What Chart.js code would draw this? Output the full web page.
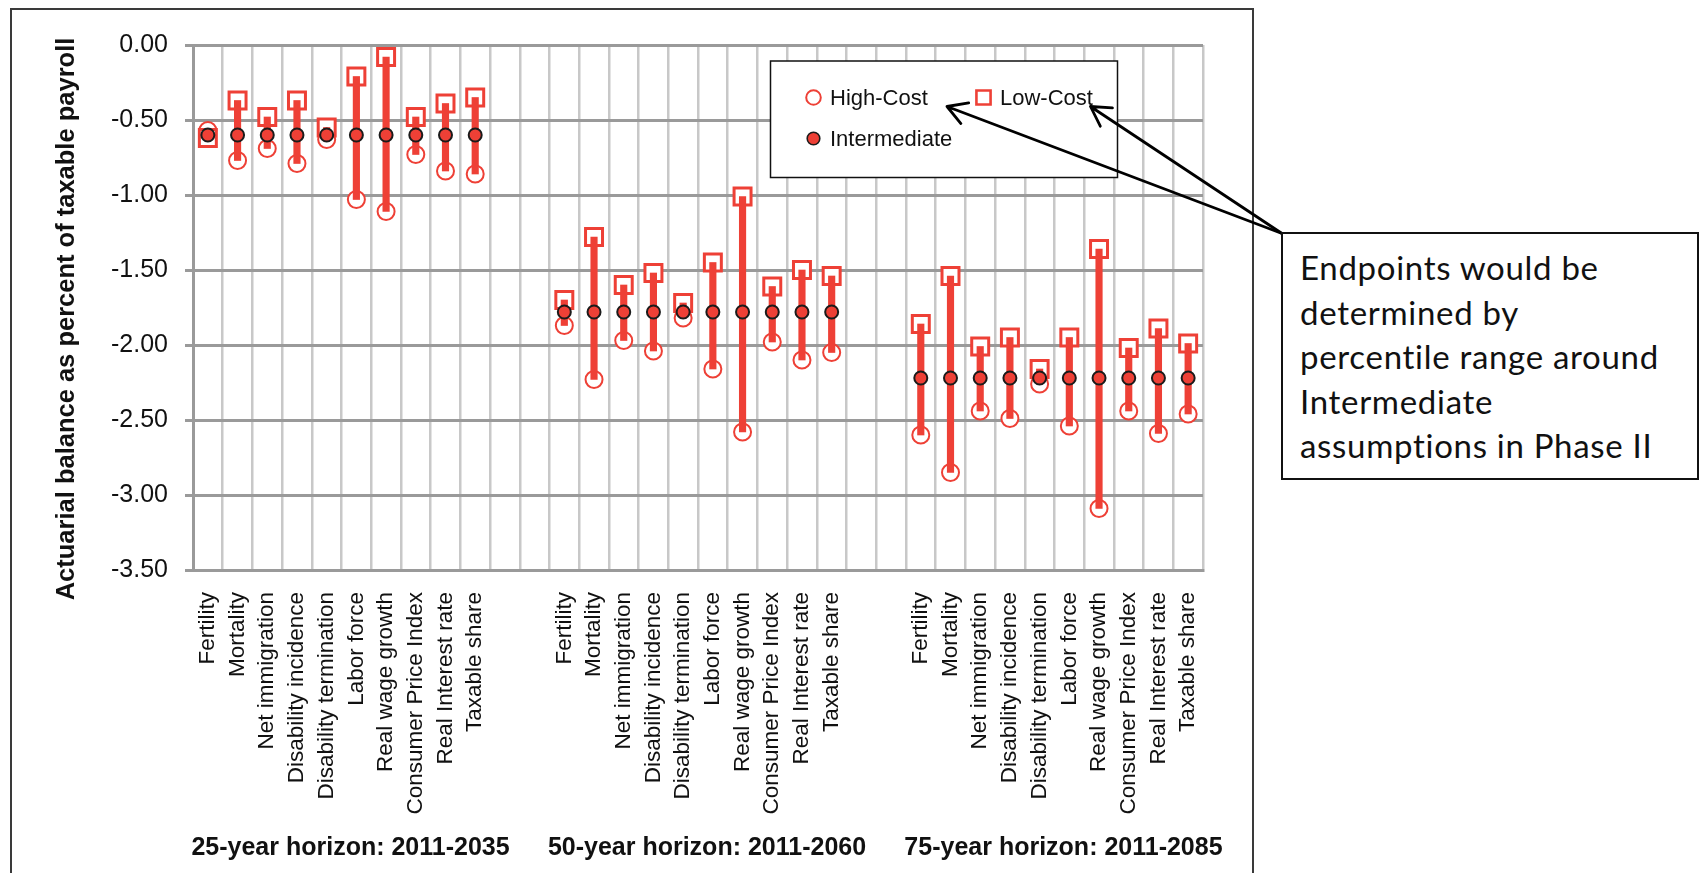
<!DOCTYPE html>
<html>
<head>
<meta charset="utf-8">
<title>Actuarial balance sensitivity ranges</title>
<script src="https://cdn.jsdelivr.net/npm/chart.js@4.4.1/dist/chart.umd.min.js"></script>
<style>
  html, body { margin: 0; padding: 0; background: #fff; overflow: hidden; }
  #wrap { position: relative; width: 1702px; height: 873px; }
  #frame { position: absolute; left: 10px; top: 8px; width: 1244px; height: 900px;
           border: 2px solid #3a3a3a; box-sizing: border-box; }
  #chart { position: absolute; left: 0; top: 0; }
  #note { position: absolute; left: 1281px; top: 232px; width: 418px; height: 248px;
          box-sizing: border-box; border: 2px solid #111; background: #fff;
          padding: 11px 0 0 17px; font-family: Lato, "Open Sans", sans-serif;
          font-size: 33px; letter-spacing: 0.7px; line-height: 44.6px; color: #111;
          white-space: nowrap; }
</style>
</head>
<body>
<div id="wrap">
  <div id="frame"></div>
  <canvas id="chart" width="1702" height="873"></canvas>
  <div id="note">Endpoints would be<br>determined by<br>percentile range around<br>Intermediate<br>assumptions in Phase II</div>
</div>
<script>
// Assumption categories, repeated for each projection horizon
const factors = ['Fertility', 'Mortality', 'Net immigration', 'Disability incidence',
  'Disability termination', 'Labor force', 'Real wage growth', 'Consumer Price Index',
  'Real Interest rate', 'Taxable share'];
const horizons = ['25-year horizon: 2011-2035', '50-year horizon: 2011-2060', '75-year horizon: 2011-2085'];
const gapSlots = 2; // empty category slots between horizons
const yTitle = 'Actuarial balance as percent of taxable payroll';

// Actuarial balance (% of taxable payroll), 25-year horizon
const highCost25 = [-0.57, -0.77, -0.69, -0.79, -0.63, -1.03, -1.11, -0.73, -0.84, -0.86];
const lowCost25  = [-0.62, -0.37, -0.48, -0.37, -0.55, -0.21, -0.08, -0.48, -0.39, -0.35];
const inter25    = [-0.60, -0.60, -0.60, -0.60, -0.60, -0.60, -0.60, -0.60, -0.60, -0.60];

// 50-year horizon
const highCost50 = [-1.87, -2.23, -1.97, -2.04, -1.82, -2.16, -2.58, -1.98, -2.10, -2.05];
const lowCost50  = [-1.70, -1.28, -1.60, -1.52, -1.72, -1.45, -1.01, -1.61, -1.50, -1.54];
const inter50    = [-1.78, -1.78, -1.78, -1.78, -1.78, -1.78, -1.78, -1.78, -1.78, -1.78];

// 75-year horizon
const highCost75 = [-2.60, -2.85, -2.44, -2.49, -2.26, -2.54, -3.09, -2.44, -2.59, -2.46];
const lowCost75  = [-1.86, -1.54, -2.01, -1.95, -2.16, -1.95, -1.36, -2.02, -1.89, -1.99];
const inter75    = [-2.22, -2.22, -2.22, -2.22, -2.22, -2.22, -2.22, -2.22, -2.22, -2.22];

// Value axis
const yMin = -3.5, yMax = 0, yStep = 0.5;

const RED = '#ee4036';
const FONT = '"Liberation Sans", Arial, sans-serif';

// Lay the three horizons side by side with blank slots in between
function joinGroups(a, b, c, filler) {
  const gap = Array(gapSlots).fill(filler);
  return [...a, ...gap, ...b, ...gap, ...c];
}
const labels = joinGroups(factors, factors, factors, '');
const highCost = joinGroups(highCost25, highCost50, highCost75, null);
const lowCost = joinGroups(lowCost25, lowCost50, lowCost75, null);
const intermediate = joinGroups(inter25, inter50, inter75, null);
const ranges = highCost.map((h, i) => (h === null ? null : [lowCost[i], h]));

// Axis title, legend box, arrows and horizon captions drawn on top of the plot
const overlay = {
  id: 'overlay',
  afterDraw(chart) {
    const ctx = chart.ctx;
    const x = chart.scales.x;
    ctx.save();

    // rotated value-axis title
    ctx.save();
    ctx.translate(67, 319);
    ctx.rotate(-Math.PI / 2);
    ctx.font = 'bold 25.5px ' + FONT;
    ctx.fillStyle = '#111';
    ctx.textAlign = 'center';
    ctx.textBaseline = 'middle';
    ctx.fillText(yTitle, 0, 0);
    ctx.restore();

    // horizon captions under each group
    ctx.font = 'bold 25px ' + FONT;
    ctx.fillStyle = '#111';
    ctx.textAlign = 'center';
    ctx.textBaseline = 'middle';
    const groupLen = factors.length + gapSlots;
    horizons.forEach((h, g) => {
      const first = x.getPixelForValue(g * groupLen);
      const last = x.getPixelForValue(g * groupLen + factors.length - 1);
      ctx.fillText(h, (first + last) / 2 + 9, 848);
    });

    // legend box
    const L = { left: 770.5, top: 61, right: 1117.5, bottom: 177.5 };
    ctx.fillStyle = '#fff';
    ctx.fillRect(L.left, L.top, L.right - L.left, L.bottom - L.top);
    ctx.strokeStyle = '#111';
    ctx.lineWidth = 1.5;
    ctx.strokeRect(L.left, L.top, L.right - L.left, L.bottom - L.top);

    const sym = (style, r, bw, stroke, fill, px, py) => {
      ctx.lineWidth = bw;
      ctx.strokeStyle = stroke;
      ctx.fillStyle = fill;
      Chart.helpers.drawPoint(ctx, { pointStyle: style, radius: r, rotation: 0, borderWidth: bw }, px, py);
    };
    sym('circle', 7.3, 2, RED, '#fff', 813.5, 97.5);
    sym('rect', 10, 2.6, RED, '#fff', 983.5, 97.5);
    sym('circle', 6.3, 1.6, '#1b1b1b', RED, 813.5, 138.5);

    ctx.font = '22px ' + FONT;
    ctx.fillStyle = '#111';
    ctx.textAlign = 'left';
    ctx.textBaseline = 'alphabetic';
    ctx.fillText('High-Cost', 830, 104.5);
    ctx.fillText('Low-Cost', 1000, 104.5);
    ctx.fillText('Intermediate', 830, 145.5);

    // arrows from the note box corner to the legend entries
    const from = [1282, 233.5];
    const tips = [[947, 106.5], [1090.5, 106.5]];
    ctx.strokeStyle = '#000';
    ctx.lineWidth = 2.8;
    ctx.lineCap = 'round';
    tips.forEach(([tx, ty]) => {
      const ang = Math.atan2(from[1] - ty, from[0] - tx);
      ctx.beginPath();
      ctx.moveTo(from[0], from[1]);
      ctx.lineTo(tx, ty);
      [-Math.PI / 6, Math.PI / 6].forEach(d => {
        ctx.moveTo(tx, ty);
        ctx.lineTo(tx + 22 * Math.cos(ang + d), ty + 22 * Math.sin(ang + d));
      });
      ctx.stroke();
    });
    ctx.restore();
  }
};

new Chart(document.getElementById('chart'), {
  data: {
    labels,
    datasets: [
      { type: 'line', label: 'Intermediate', data: intermediate, showLine: false,
        pointStyle: 'circle', pointRadius: 6.5, pointHoverRadius: 6.5, pointBorderWidth: 2,
        pointBorderColor: '#1b1b1b', pointBackgroundColor: RED, order: 0, clip: false },
      { type: 'bar', label: 'Range', data: ranges, backgroundColor: RED, borderWidth: 0,
        barThickness: 6.5, order: 1 },
      { type: 'line', label: 'Low-Cost', data: lowCost, showLine: false,
        pointStyle: 'rect', pointRadius: 12, pointHoverRadius: 12, pointBorderWidth: 3,
        pointBorderColor: RED, pointBackgroundColor: '#fff', order: 2, clip: false },
      { type: 'line', label: 'High-Cost', data: highCost, showLine: false,
        pointStyle: 'circle', pointRadius: 8.5, pointHoverRadius: 8.5, pointBorderWidth: 2,
        pointBorderColor: RED, pointBackgroundColor: '#fff', order: 3, clip: false }
    ]
  },
  options: {
    responsive: false,
    animation: false,
    devicePixelRatio: 1,
    layout: { padding: { left: 0, top: 45, right: 499, bottom: 0 } },
    plugins: { legend: { display: false }, tooltip: { enabled: false } },
    scales: {
      x: {
        type: 'category',
        offset: true,
        grid: { offset: true, color: '#c8c8c8', lineWidth: 2.5, drawTicks: false },
        border: { display: true, color: '#9a9a9a', width: 3 },
        ticks: { autoSkip: false, maxRotation: 90, minRotation: 90, padding: 22,
                 color: '#111', font: { family: FONT, size: 22.5 } },
        afterFit(scale) { scale.height = 303; }
      },
      y: {
        min: yMin, max: yMax,
        grid: { color: '#9a9a9a', lineWidth: 3, tickLength: 8 },
        border: { display: true, color: '#9a9a9a', width: 3 },
        ticks: { stepSize: yStep, padding: 17, color: '#111',
                 font: { family: FONT, size: 25 },
                 callback: v => Number(v).toFixed(2) },
        afterFit(scale) { scale.width = 193; }
      }
    }
  },
  plugins: [overlay]
});
</script>
</body>
</html>
